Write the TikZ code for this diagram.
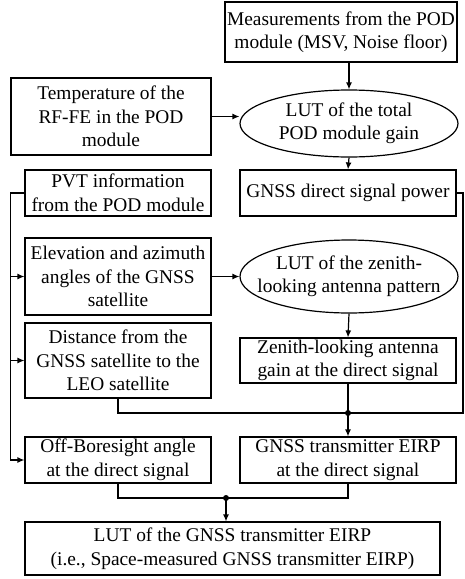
\documentclass[tikz,border=0pt]{standalone}
\usepackage{fontspec}
\setmainfont{Liberation Serif}
\usetikzlibrary{calc, arrows.meta, shapes.geometric}

\begin{document}
\begin{tikzpicture}[x=1pt, y=-1pt, line width=1.2pt,
  font=\fontsize{19.4}{23.5}\selectfont,
  box/.style={draw, rectangle, align=center, inner sep=0pt},
  lut/.style={draw, ellipse, align=center, inner sep=-30pt, minimum width=218pt},
  >={Latex[length=7pt,width=6pt]}]
\useasboundingbox (0,0) rectangle (465,579);
% upper part: gain of the POD module
\node[box, minimum width=232pt, minimum height=60pt] (meas) at (341,32) {Measurements from the POD\\module (MSV, Noise floor)};
\node[box, minimum width=200pt, minimum height=77pt] (temp) at (111,116.5) {Temperature of the\\RF-FE in the POD\\module};
\node[lut, minimum height=67pt] (gainlut) at (349,123.5) {LUT of the total\\POD module gain};
\node[box, minimum width=216pt, minimum height=46pt] (power) at (348,193) {GNSS direct signal power};
\node[box, minimum width=186pt, minimum height=46pt] (pvt) at (118,193) {PVT information\\from the POD module};
% geometry of the direct signal
\node[box, minimum width=186pt, minimum height=77pt] (elev) at (118,276.5) {Elevation and azimuth\\angles of the GNSS\\satellite};
\node[lut, minimum height=73pt] (antlut) at (349,276.5) {LUT of the zenith-\\looking antenna pattern};
\node[box, minimum width=186pt, minimum height=75pt] (dist) at (118,360.5) {Distance from the\\GNSS satellite to the\\LEO satellite};
\node[box, minimum width=216pt, minimum height=45pt] (zen) at (348,360.5) {Zenith-looking antenna\\gain at the direct signal};
\node[box, minimum width=186pt, minimum height=46pt] (obs) at (118,460) {Off-Boresight angle\\at the direct signal};
\node[box, minimum width=216pt, minimum height=46pt] (eirp) at (348,460) {GNSS transmitter EIRP\\at the direct signal};
\node[box, minimum width=415pt, minimum height=53pt] (final) at (232.5,548.5) {LUT of the GNSS transmitter EIRP\\(i.e., Space-measured GNSS transmitter EIRP)};
\coordinate (J1) at (348,413);
\coordinate (J2) at (226,498);
\coordinate (R) at (463,0);
% connectors
\draw[->] (meas.south -| gainlut) -- (gainlut.north);
\draw[->] (temp.east) -- (temp.east -| gainlut.west);
\draw[->] (gainlut.south) -- (power.north);
\draw[->] (elev.east) -- (antlut.west);
\draw[->] (antlut.south) -- (zen.north);
\draw[->] (pvt.west) --++ (-14,0) coordinate (L) |- (obs.west);
\draw[->] (L |- elev.west) -- (elev.west);
\draw[->] (L |- dist.west) -- (dist.west);
\draw (power.east) -| (R |- J1) -- (J1);
\draw (dist.south) |- (J1);
\draw[->] (zen.south) -- (eirp.north);
\draw (obs.south) |- (J2) -| (eirp.south);
\draw[->] (J2) -- (J2 |- final.north);
\fill (J1) circle (3) (J2) circle (3);
\end{tikzpicture}
\end{document}
